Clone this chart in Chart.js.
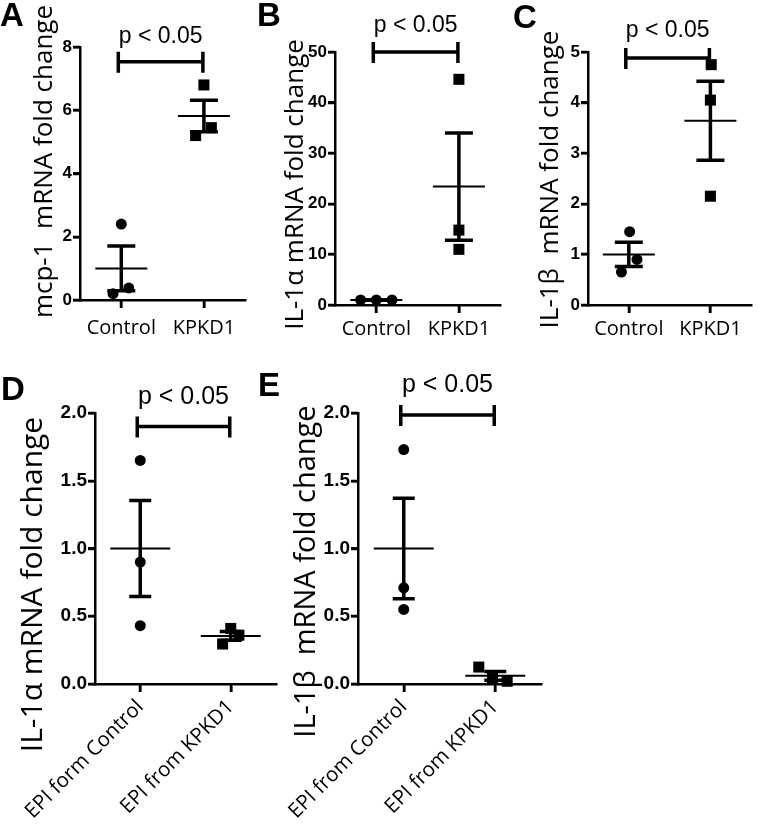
<!DOCTYPE html>
<html>
<head>
<meta charset="utf-8">
<script src="https://cdn.jsdelivr.net/npm/chart.js@4/dist/chart.umd.min.js"></script>
<style>
  body { margin: 0; background: #fff; }
  #wrap { position: relative; width: 759px; height: 824px; overflow: hidden; }
  canvas { position: absolute; }
  .lbl { position: absolute; font: bold 33px "Liberation Sans", Arial, sans-serif; line-height: 1; color: #000; }
</style>
</head>
<body>
<div id="wrap">
  <canvas id="cA" width="253" height="345" style="left:0;top:0"></canvas>
  <canvas id="cB" width="255" height="345" style="left:253px;top:0"></canvas>
  <canvas id="cC" width="253" height="345" style="left:506px;top:0"></canvas>
  <canvas id="cD" width="285" height="464" style="left:0;top:360px"></canvas>
  <canvas id="cE" width="290" height="464" style="left:265px;top:360px"></canvas>
  <div class="lbl" style="left:0;top:-2px">A</div>
  <div class="lbl" style="left:257px;top:-2px">B</div>
  <div class="lbl" style="left:513px;top:0">C</div>
  <div class="lbl" style="left:1px;top:372px">D</div>
  <div class="lbl" style="left:258px;top:368px">E</div>
</div>
<script>
// group names
const groupsTop = ["Control", "KPKD1"];
const groupsD = ["EPI form Control", "EPI from KPKD1"];
const groupsE = ["EPI from Control", "EPI from KPKD1"];

// A: mcp-1
const mcpControl = [2.4, 0.2, 0.38];
const mcpKpkd = [6.8, 5.2, 5.45];
const mcpMean = [1.0, 5.82];
const mcpSem = [0.71, 0.5];
const mcpTicks = [0, 2, 4, 6, 8];

// B: IL-1a
const il1aControl = [1.0, 1.0, 1.0];
const il1aKpkd = [44.6, 14.8, 11.0];
const il1aMean = [1.0, 23.4];
const il1aSem = [0.05, 10.6];
const il1aTicks = [0, 10, 20, 30, 40, 50];

// C: IL-1b
const il1bControl = [1.45, 0.65, 0.9];
const il1bKpkd = [4.75, 4.05, 2.15];
const il1bMean = [1.0, 3.64];
const il1bSem = [0.24, 0.78];
const il1bTicks = [0, 1, 2, 3, 4, 5];

// D: IL-1a in EPI
const epiAControl = [1.65, 0.9, 0.43];
const epiAKpkd = [0.41, 0.295, 0.36];
const epiAMean = [1.0, 0.355];
const epiASem = [0.355, 0.033];

// E: IL-1b in EPI
const epiBControl = [1.73, 0.71, 0.55];
const epiBKpkd = [0.125, 0.04, 0.02];
const epiBMean = [1.0, 0.06];
const epiBSem = [0.37, 0.033];
const epiTicks = [0, 0.5, 1.0, 1.5, 2.0];

const black = "#000";
const titleFont = '"Open Sans", "Noto Sans", sans-serif';
const tickFont = '"Liberation Sans", Arial, sans-serif';

function makePanel(id, p) {
  const canvas = document.getElementById(id);
  const W = canvas.width, H = canvas.height;
  const statsPlugin = {
    id: "stats",
    afterDatasetsDraw(chart) {
      const { ctx } = chart;
      const xs = chart.scales.x, ys = chart.scales.y;
      ctx.save();
      ctx.strokeStyle = black;
      ctx.lineCap = "butt";
      for (let i = 0; i < 2; i++) {
        const cx = xs.getPixelForValue(i);
        const my = ys.getPixelForValue(p.mean[i]);
        const ty = ys.getPixelForValue(p.mean[i] + p.sem[i]);
        const by = ys.getPixelForValue(p.mean[i] - p.sem[i]);
        ctx.lineWidth = 2;
        ctx.beginPath();
        ctx.moveTo(cx - p.meanHalf, my); ctx.lineTo(cx + p.meanHalf, my);
        ctx.stroke();
        ctx.lineWidth = 3.5;
        ctx.beginPath();
        ctx.moveTo(cx, ty); ctx.lineTo(cx, by);
        ctx.moveTo(cx - p.capHalf, ty); ctx.lineTo(cx + p.capHalf, ty);
        ctx.moveTo(cx - p.capHalf, by); ctx.lineTo(cx + p.capHalf, by);
        ctx.stroke();
      }
      ctx.restore();
    },
    afterDraw(chart) {
      const { ctx, chartArea } = chart;
      const xs = chart.scales.x, ys = chart.scales.y;
      ctx.save();
      ctx.strokeStyle = black;

      // outward tick marks at the scale ticks
      ctx.lineWidth = 2.5;
      ctx.beginPath();
      xs.ticks.forEach(t => {
        const px = Math.round(xs.getPixelForValue(t.value));
        ctx.moveTo(px, chartArea.bottom); ctx.lineTo(px, chartArea.bottom + 8);
      });
      ys.ticks.forEach(t => {
        const py = Math.round(ys.getPixelForValue(t.value));
        ctx.moveTo(chartArea.left, py); ctx.lineTo(chartArea.left - 7, py);
      });
      ctx.stroke();

      // significance bar
      const x0 = xs.getPixelForValue(0) - 3, x1 = xs.getPixelForValue(1) - 1;
      const y = ys.getPixelForValue(p.sigY);
      ctx.lineWidth = 3.5;
      ctx.beginPath();
      ctx.moveTo(x0, y); ctx.lineTo(x1, y);
      ctx.moveTo(x0, y - 10); ctx.lineTo(x0, y + 11);
      ctx.moveTo(x1, y - 10); ctx.lineTo(x1, y + 11);
      ctx.stroke();
      ctx.fillStyle = black;
      ctx.font = p.pSize + 'px "Liberation Sans", Arial, sans-serif';
      ctx.textAlign = "center";
      ctx.textBaseline = "middle";
      ctx.fillText("p < 0.05", (x0 + x1) / 2, y - p.pGap);

      // y-axis title, rotated
      ctx.translate(p.titleX, (chartArea.top + chartArea.bottom) / 2 + p.titleShift);
      ctx.rotate(-Math.PI / 2);
      ctx.font = p.titleSize + "px " + titleFont;
      ctx.textBaseline = "alphabetic";
      ctx.fillText(p.title, 0, 0);
      ctx.restore();
    }
  };

  const axisGrid = (len) => ({
    display: true, drawOnChartArea: false, drawTicks: true,
    tickLength: len, color: black, lineWidth: 2.5,
    tickColor: black, tickWidth: 2.5
  });

  return new Chart(canvas, {
    type: "scatter",
    data: {
      datasets: [
        {
          data: p.ctrl.map((v, i) => ({ x: 0 + p.ctrlJit[i], y: v })),
          pointStyle: "circle", pointRadius: 5.5,
          backgroundColor: black, borderColor: black, borderWidth: 0, clip: false
        },
        {
          data: p.kpkd.map((v, i) => ({ x: 1 + p.kpkdJit[i], y: v })),
          pointStyle: "rect", pointRadius: 7.8,
          backgroundColor: black, borderColor: black, borderWidth: 0, clip: false
        }
      ]
    },
    options: {
      responsive: false,
      animation: false,
      events: [],
      layout: { padding: { left: 0, top: p.area.top, right: W - p.area.right, bottom: 0 } },
      plugins: { legend: { display: false }, tooltip: { enabled: false } },
      scales: {
        x: {
          type: "linear", min: -0.5, max: 1.5,
          afterBuildTicks: s => { s.ticks = [{ value: 0 }, { value: 1 }]; },
          afterFit: s => {
            s.height = H - p.area.bottom;
            // keep long rotated labels from pushing the plot area around
            s.paddingLeft = 0;
            s.paddingRight = 0;
          },
          ticks: {
            callback: v => p.cats[v], color: black, autoSkip: false,
            font: { family: titleFont, size: p.xSize }, padding: p.xPad,
            maxRotation: p.rot, minRotation: p.rot
          },
          grid: axisGrid(8),
          border: { display: true, color: black, width: 2.5 }
        },
        y: {
          min: 0, max: p.yTicks[p.yTicks.length - 1],
          afterBuildTicks: s => { s.ticks = p.yTicks.map(v => ({ value: v })); },
          afterFit: s => { s.width = p.area.left; s.paddingTop = 0; s.paddingBottom = 0; },
          ticks: {
            callback: v => p.fmt(v), color: black,
            font: { family: tickFont, size: p.yTickSize, weight: "bold" }, padding: 1
          },
          grid: axisGrid(7),
          border: { display: true, color: black, width: 2.5 }
        }
      }
    },
    plugins: [statsPlugin]
  });
}

const intFmt = v => String(v);
const decFmt = v => v.toFixed(1);

makePanel("cA", {
  cats: groupsTop, ctrl: mcpControl, kpkd: mcpKpkd,
  ctrlJit: [0, -0.1, 0.09], kpkdJit: [0, -0.1, 0.09],
  mean: mcpMean, sem: mcpSem, yTicks: mcpTicks, fmt: intFmt, yTickSize: 17,
  title: "mcp-1  mRNA fold change", titleSize: 26, titleX: 52, titleShift: -12,
  area: { left: 80, right: 248, top: 47, bottom: 300 },
  xSize: 20, xPad: 8, rot: 0, sigY: 7.53, pSize: 23, pGap: 25,
  meanHalf: 26, capHalf: 14
});

makePanel("cB", {
  cats: groupsTop, ctrl: il1aControl, kpkd: il1aKpkd,
  ctrlJit: [-0.19, 0, 0.19], kpkdJit: [0, 0, 0],
  mean: il1aMean, sem: il1aSem, yTicks: il1aTicks, fmt: intFmt, yTickSize: 17,
  title: "IL-1\u03b1 mRNA fold change", titleSize: 26, titleX: 50, titleShift: 6,
  area: { left: 82, right: 253, top: 52, bottom: 305 },
  xSize: 20, xPad: 4, rot: 0, sigY: 50, pSize: 23, pGap: 26,
  meanHalf: 26, capHalf: 14
});

makePanel("cC", {
  cats: groupsTop, ctrl: il1bControl, kpkd: il1bKpkd,
  ctrlJit: [0.01, -0.09, 0.1], kpkdJit: [0.01, 0, 0],
  mean: il1bMean, sem: il1bSem, yTicks: il1bTicks, fmt: intFmt, yTickSize: 17,
  title: "IL-1\u03b2  mRNA fold change", titleSize: 26, titleX: 52, titleShift: 1,
  area: { left: 82, right: 249, top: 52, bottom: 305 },
  xSize: 20, xPad: 4, rot: 0, sigY: 4.88, pSize: 23, pGap: 27,
  meanHalf: 26, capHalf: 14
});

makePanel("cD", {
  cats: groupsD, ctrl: epiAControl, kpkd: epiAKpkd,
  ctrlJit: [0, 0, 0], kpkdJit: [0, -0.09, 0.09],
  mean: epiAMean, sem: epiASem, yTicks: epiTicks, fmt: decFmt, yTickSize: 19,
  title: "IL-1\u03b1 mRNA fold change", titleSize: 30, titleX: 42, titleShift: 36,
  area: { left: 95, right: 276, top: 53, bottom: 324 },
  xSize: 20.5, xPad: 3, rot: 45, sigY: 1.9, pSize: 25, pGap: 29,
  meanHalf: 30, capHalf: 11
});

makePanel("cE", {
  cats: groupsE, ctrl: epiBControl, kpkd: epiBKpkd,
  ctrlJit: [0, 0, 0], kpkdJit: [-0.18, -0.03, 0.13],
  mean: epiBMean, sem: epiBSem, yTicks: epiTicks, fmt: decFmt, yTickSize: 19,
  title: "IL-1\u03b2  mRNA fold change", titleSize: 29, titleX: 50, titleShift: 23,
  area: { left: 93, right: 276, top: 53, bottom: 324 },
  xSize: 20.5, xPad: 3, rot: 45, sigY: 1.985, pSize: 25, pGap: 30,
  meanHalf: 30, capHalf: 11
});
</script>
</body>
</html>
